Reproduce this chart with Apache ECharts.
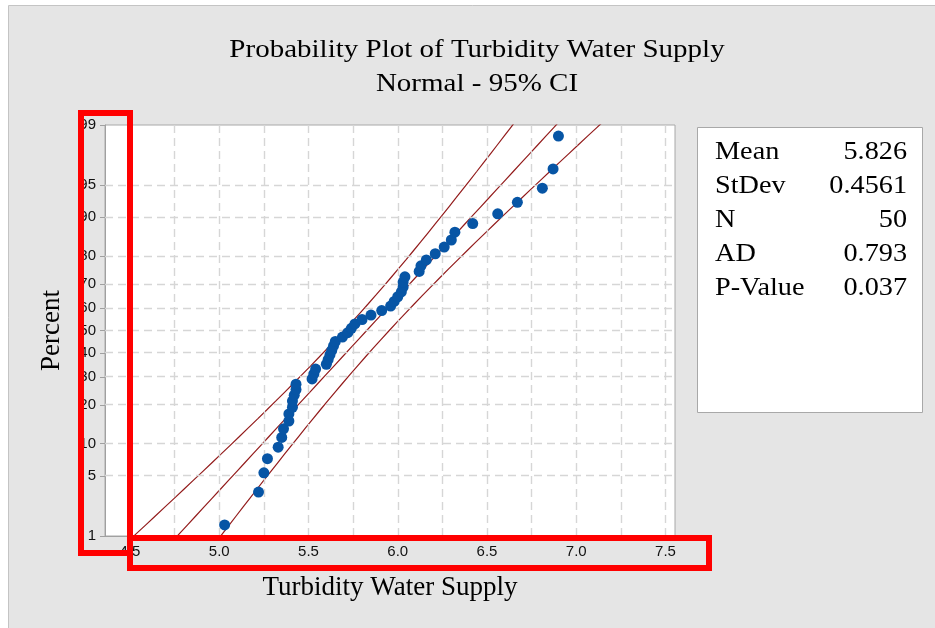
<!DOCTYPE html>
<html>
<head>
<meta charset="utf-8">
<script src="https://cdn.jsdelivr.net/npm/echarts@6/dist/echarts.min.js"></script>
<style>
  html, body { margin: 0; padding: 0; background: #ffffff; }
  #chart { width: 935px; height: 628px; }
</style>
</head>
<body>
<div id="chart"></div>
<script>
// Turbidity readings of the water supply, sorted ascending (N = 50)
const turbidity = [
  5.03, 5.22, 5.25, 5.27, 5.33, 5.35, 5.36, 5.39, 5.39, 5.41,
  5.41, 5.42, 5.43, 5.43, 5.52, 5.53, 5.54, 5.60, 5.61, 5.62,
  5.63, 5.64, 5.65, 5.69, 5.72, 5.74, 5.76, 5.80, 5.85, 5.91,
  5.96, 5.98, 6.00, 6.02, 6.03, 6.03, 6.04, 6.12, 6.13, 6.16,
  6.21, 6.26, 6.30, 6.32, 6.42, 6.56, 6.67, 6.81, 6.87, 6.90
];

// Axis ticks
const percentTicks = [1, 5, 10, 20, 30, 40, 50, 60, 70, 80, 90, 95, 99];
const xTicks = [4.5, 5.0, 5.5, 6.0, 6.5, 7.0, 7.5];
const xGridLines = [4.5, 4.75, 5.0, 5.25, 5.5, 5.75, 6.0, 6.25, 6.5, 6.75, 7.0, 7.25, 7.5];

// Summary statistics
const statNames = ['Mean', 'StDev', 'N', 'AD', 'P-Value'];
const statValues = ['5.826', '0.4561', '50', '0.793', '0.037'];
const MEAN = 5.826;
const STDEV = 0.4561;
const N = 50;

// Inverse of the standard normal CDF (Acklam's rational approximation)
function probit(p) {
  const a = [-3.969683028665376e+01, 2.209460984245205e+02, -2.759285104469687e+02,
             1.383577518672690e+02, -3.066479806614716e+01, 2.506628277459239e+00];
  const b = [-5.447609879822406e+01, 1.615858368580409e+02, -1.556989798598866e+02,
             6.680131188771972e+01, -1.328068155288572e+01];
  const c = [-7.784894002430293e-03, -3.223964580411365e-01, -2.400758277161838e+00,
             -2.549732539343734e+00, 4.374664141464968e+00, 2.938163982698783e+00];
  const d = [7.784695709041462e-03, 3.224671290700398e-01, 2.445134137142996e+00,
             3.754408661907416e+00];
  const pl = 0.02425, ph = 1 - pl;
  let q, r;
  if (p < pl) {
    q = Math.sqrt(-2 * Math.log(p));
    return (((((c[0]*q+c[1])*q+c[2])*q+c[3])*q+c[4])*q+c[5]) / ((((d[0]*q+d[1])*q+d[2])*q+d[3])*q+1);
  }
  if (p <= ph) {
    q = p - 0.5; r = q * q;
    return (((((a[0]*r+a[1])*r+a[2])*r+a[3])*r+a[4])*r+a[5])*q / (((((b[0]*r+b[1])*r+b[2])*r+b[3])*r+b[4])*r+1);
  }
  q = Math.sqrt(-2 * Math.log(1 - p));
  return -(((((c[0]*q+c[1])*q+c[2])*q+c[3])*q+c[4])*q+c[5]) / ((((d[0]*q+d[1])*q+d[2])*q+d[3])*q+1);
}

// Median-rank plotting positions, on the normal-score scale
const points = turbidity.map((v, i) => [v, probit((i + 1 - 0.3) / (N + 0.4))]);

// Fitted normal line and its 95% confidence band
const fitLine = [], ciLow = [], ciHigh = [];
for (let k = -30; k <= 30; k++) {
  const z = k / 10;
  const xp = MEAN + z * STDEV;
  const half = 1.96 * STDEV * Math.sqrt(1 / N + (z * z) / (2 * N));
  fitLine.push([xp, z]);
  ciLow.push([xp - half, z]);
  ciHigh.push([xp + half, z]);
}

const percentZ = percentTicks.map(p => probit(p / 100));
function percentLabel(v) {
  let best = 0;
  percentZ.forEach((z, i) => { if (Math.abs(z - v) < Math.abs(percentZ[best] - v)) best = i; });
  return String(percentTicks[best]);
}

const serif = '"Liberation Serif", "Times New Roman", serif';
const sans = '"Liberation Sans", Arial, sans-serif';
const lineRed = '#931c1c';
const gridLine = { color: '#d6d6d6', width: 1.4, type: [8, 5] };

// Wide serif text, as the statistics software prints it
function wideText(text, x, y, align, sx) {
  return {
    type: 'text', x: x, y: y, originX: 0, originY: 0, scaleX: sx, z: 20,
    style: { text: text, font: '25px ' + serif, fill: '#000', textAlign: align, textVerticalAlign: 'middle' }
  };
}

// Summary-statistics panel
const statGraphics = [];
statNames.forEach((name, i) => {
  const y = 152 + i * 34;
  statGraphics.push(wideText(name, 715, y, 'left', 1.13));
  statGraphics.push(wideText(statValues[i], 907, y, 'right', 1.13));
});

const chart = echarts.init(document.getElementById('chart'), null, { renderer: 'canvas' });
chart.setOption({
  animation: false,
  backgroundColor: '#ffffff',
  grid: {
    left: 105, top: 125, right: 260, bottom: 92,
    show: true, backgroundColor: '#ffffff', borderColor: '#a8a8a8', borderWidth: 1,
    outerBoundsMode: 'none', containLabel: false
  },
  xAxis: {
    type: 'value', min: 4.36, max: 7.553,
    name: 'Turbidity Water Supply', nameLocation: 'middle', nameGap: 38,
    nameTextStyle: { fontFamily: serif, fontSize: 27, color: '#000' },
    axisLine: { show: true, onZero: false, lineStyle: { color: '#a0a0a0' } },
    axisTick: { show: true, length: 5, lineStyle: { color: '#a0a0a0' }, customValues: xTicks },
    axisLabel: { customValues: xTicks, formatter: v => v.toFixed(1), fontFamily: sans, fontSize: 15, color: '#111', margin: 8 },
    splitLine: { show: false }
  },
  yAxis: {
    type: 'value', min: probit(0.01), max: probit(0.99),
    name: 'Percent', nameLocation: 'middle', nameGap: 40, nameRotate: 90,
    nameTextStyle: { fontFamily: serif, fontSize: 27, color: '#000' },
    axisLine: { show: true, onZero: false, lineStyle: { color: '#a0a0a0' } },
    axisTick: { show: true, length: 5, lineStyle: { color: '#a0a0a0' }, customValues: percentZ },
    axisLabel: { customValues: percentZ, formatter: percentLabel, fontFamily: sans, fontSize: 15, color: '#111', margin: 9 },
    splitLine: { show: false }
  },
  series: [
    {
      // dashed reference grid
      type: 'line', data: [], silent: true,
      markLine: {
        silent: true, symbol: ['none', 'none'], label: { show: false },
        lineStyle: gridLine, animation: false,
        data: xGridLines.map(x => ({ xAxis: x }))
          .concat(percentZ.slice(1, -1).map(z => ({ yAxis: z })))
      }
    },
    { type: 'line', data: ciLow, showSymbol: false, clip: true, silent: true,
      lineStyle: { color: lineRed, width: 1.2 } },
    { type: 'line', data: fitLine, showSymbol: false, clip: true, silent: true,
      lineStyle: { color: lineRed, width: 1.2 } },
    { type: 'line', data: ciHigh, showSymbol: false, clip: true, silent: true,
      lineStyle: { color: lineRed, width: 1.2 } },
    { type: 'scatter', data: points, symbol: 'circle', symbolSize: 11,
      itemStyle: { color: '#0755a5', opacity: 1 }, z: 5 }
  ],
  graphic: [
    { type: 'rect', z: -100, shape: { x: 8.5, y: 5.5, width: 940, height: 640 },
      style: { fill: '#e5e5e5', stroke: '#c4c4c4', lineWidth: 1 } },
    wideText('Probability Plot of Turbidity Water Supply', 477, 50, 'center', 1.16),
    wideText('Normal - 95% CI', 477, 84, 'center', 1.16),
    { type: 'rect', z: 10, shape: { x: 697.5, y: 127.5, width: 225, height: 285 },
      style: { fill: '#ffffff', stroke: '#a8a8a8', lineWidth: 1 } }
  ].concat(statGraphics).concat([
    { type: 'rect', z: 50, shape: { x: 81, y: 113, width: 49, height: 440 },
      style: { fill: 'none', stroke: '#ff0000', lineWidth: 6 } },
    { type: 'rect', z: 50, shape: { x: 130, y: 538, width: 579, height: 30 },
      style: { fill: 'none', stroke: '#ff0000', lineWidth: 6 } }
  ])
});
</script>
</body>
</html>
